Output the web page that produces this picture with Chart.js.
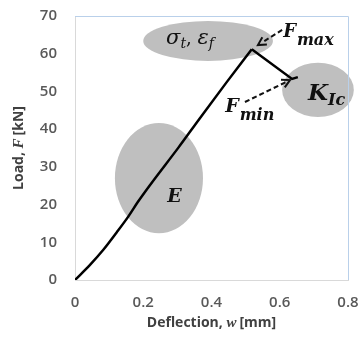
<!DOCTYPE html>
<html>
<head>
<meta charset="utf-8">
<script src="https://cdn.jsdelivr.net/npm/chart.js@4.4.1/dist/chart.umd.min.js"></script>
<style>
  html, body { margin: 0; padding: 0; background: #fff; }
  #wrap { width: 364px; height: 341px; }
</style>
</head>
<body>
<div id="wrap"><canvas id="loadChart" width="364" height="341"></canvas></div>
<script>
// load-deflection curve
var deflection = [0, 0.044, 0.083, 0.122, 0.156, 0.185, 0.22, 0.303, 0.366, 0.444, 0.518, 0.636, 0.653];
var load       = [0, 4.0,   8.0,   12.6,  16.8,  20.8,  25.2, 35.1,  42.9,  52.4,  61.2,  53.3,  53.8];

var xTicks = [0, 0.2, 0.4, 0.6, 0.8];
var yTicks = [0, 10, 20, 30, 40, 50, 60, 70];

// shaded regions (data units): centre x, centre y, half width, half height
var regionNames = ['strength', 'toughness', 'modulus'];
var regionCx = [0.390, 0.712, 0.246];
var regionCy = [63.4, 50.4, 27.0];
var regionRx = [0.190, 0.105, 0.129];
var regionRy = [5.3, 7.2, 14.6];

// dashed arrows (data units)
var arrowFrom = [[0.607, 66.3], [0.498, 47.2]];
var arrowTo   = [[0.536, 62.3], [0.630, 53.0]];

var serif = '"DejaVu Serif", serif';

function px(chart, x, y) {
  return [chart.scales.x.getPixelForValue(x), chart.scales.y.getPixelForValue(y)];
}

// draw text pieces one after another, each with its own font and baseline shift
function richText(ctx, x, y, parts) {
  var cx = x;
  ctx.textAlign = 'left';
  ctx.textBaseline = 'alphabetic';
  parts.forEach(function(p) {
    ctx.font = p.font;
    ctx.fillText(p.t, cx, y + (p.dy || 0));
    cx += ctx.measureText(p.t).width + (p.gap || 0);
  });
}

function textWidth(ctx, parts) {
  var w = 0;
  parts.forEach(function(q) { ctx.font = q.font; w += ctx.measureText(q.t).width + (q.gap || 0); });
  return w;
}

var decor = {
  id: 'decor',
  beforeDatasetsDraw: function(chart) {
    var ctx = chart.ctx;
    ctx.save();
    ctx.fillStyle = '#bfbfbf';
    for (var i = 0; i < regionNames.length; i++) {
      var c = px(chart, regionCx[i], regionCy[i]);
      var e = px(chart, regionCx[i] + regionRx[i], regionCy[i] + regionRy[i]);
      ctx.beginPath();
      ctx.ellipse(c[0], c[1], Math.abs(e[0] - c[0]), Math.abs(e[1] - c[1]), 0, 0, Math.PI * 2);
      ctx.fill();
    }
    ctx.restore();
  },
  afterDraw: function(chart) {
    var ctx = chart.ctx, a = chart.chartArea;
    ctx.save();
    // plot frame top/right
    ctx.strokeStyle = '#b9d0ea';
    ctx.lineWidth = 1;
    ctx.beginPath();
    ctx.moveTo(a.left, a.top + 0.5);
    ctx.lineTo(a.right + 0.5, a.top + 0.5);
    ctx.lineTo(a.right + 0.5, a.bottom);
    ctx.stroke();

    // dashed arrows
    ctx.strokeStyle = '#111';
    ctx.fillStyle = '#111';
    ctx.lineWidth = 2;
    for (var i = 0; i < arrowFrom.length; i++) {
      var f = px(chart, arrowFrom[i][0], arrowFrom[i][1]);
      var t = px(chart, arrowTo[i][0], arrowTo[i][1]);
      var ang = Math.atan2(t[1] - f[1], t[0] - f[0]);
      ctx.setLineDash([5, 3]);
      ctx.beginPath();
      ctx.moveTo(f[0], f[1]);
      ctx.lineTo(t[0] - 5 * Math.cos(ang), t[1] - 5 * Math.sin(ang));
      ctx.stroke();
      ctx.setLineDash([]);
      ctx.beginPath();
      ctx.moveTo(t[0] - 9 * Math.cos(ang - 0.5), t[1] - 9 * Math.sin(ang - 0.5));
      ctx.lineTo(t[0], t[1]);
      ctx.lineTo(t[0] - 9 * Math.cos(ang + 0.5), t[1] - 9 * Math.sin(ang + 0.5));
      ctx.stroke();
    }

    // labels
    ctx.fillStyle = '#111';
    var p;
    p = px(chart, 0.267, 62.6);
    richText(ctx, p[0], p[1], [
      {t: 'σ', font: 'italic 21px ' + serif},
      {t: 't', font: 'italic 14px ' + serif, dy: 4},
      {t: ', ', font: '18px ' + serif},
      {t: 'ε', font: 'italic 21px ' + serif},
      {t: 'f', font: 'italic 14px ' + serif, dy: 4}
    ]);
    p = px(chart, 0.610, 64.4);
    richText(ctx, p[0], p[1], [
      {t: 'F', font: 'bold italic 18px ' + serif, gap: 1},
      {t: 'max', font: 'bold italic 16px ' + serif, dy: 8}
    ]);
    p = px(chart, 0.440, 44.5);
    richText(ctx, p[0], p[1], [
      {t: 'F', font: 'bold italic 19px ' + serif, gap: 1},
      {t: 'min', font: 'bold italic 16px ' + serif, dy: 8}
    ]);
    p = px(chart, 0.683, 47.7);
    richText(ctx, p[0], p[1], [
      {t: 'K', font: 'bold italic 23px ' + serif, gap: 0},
      {t: 'Ic', font: 'bold italic 16px ' + serif, dy: 5}
    ]);
    p = px(chart, 0.270, 20.7);
    richText(ctx, p[0], p[1], [
      {t: 'E', font: 'bold italic 19px ' + serif}
    ]);

    // axis titles with italic symbols
    ctx.fillStyle = '#404040';
    var sans = '"Open Sans", sans-serif';
    var xt = [
      {t: 'Deflection, ', font: 'bold 14px ' + sans},
      {t: 'w', font: 'bold italic 15px "Liberation Serif", serif', gap: 3},
      {t: '[mm]', font: 'bold 14px ' + sans}
    ];
    richText(ctx, (a.left + a.right) / 2 - textWidth(ctx, xt) / 2, 327, xt);

    var yt = [
      {t: 'Load, ', font: 'bold 14px ' + sans},
      {t: 'F', font: 'bold italic 15px "Liberation Serif", serif', gap: 3},
      {t: '[kN]', font: 'bold 14px ' + sans}
    ];
    var yw = textWidth(ctx, yt);
    ctx.translate(23, (a.top + a.bottom) / 2);
    ctx.rotate(-Math.PI / 2);
    richText(ctx, -yw / 2, 0, yt);
    ctx.restore();
  }
};

var points = deflection.map(function(d, i) { return {x: d, y: load[i]}; });
var peak = load.indexOf(Math.max.apply(null, load));

new Chart(document.getElementById('loadChart').getContext('2d'), {
  type: 'line',
  data: {
    datasets: [{
      // loading branch, smooth
      data: points.slice(0, peak + 1),
      borderColor: '#000',
      borderWidth: 2.5,
      pointRadius: 0,
      cubicInterpolationMode: 'monotone',
      fill: false
    }, {
      // drop after the peak
      data: points.slice(peak),
      borderColor: '#000',
      borderWidth: 2.5,
      pointRadius: 0,
      tension: 0,
      fill: false
    }]
  },
  options: {
    responsive: false,
    animation: false,
    layout: { padding: { top: 16, right: 16, left: 0, bottom: 0 } },
    plugins: { legend: { display: false }, tooltip: { enabled: false } },
    scales: {
      x: {
        type: 'linear',
        min: 0, max: 0.8,
        afterBuildTicks: function(s) { s.ticks = xTicks.map(function(v) { return {value: v}; }); },
        afterFit: function(s) { s.height = 61; s.paddingLeft = 0; s.paddingRight = 0; },
        grid: { display: false, drawTicks: false },
        border: { display: true, color: '#d9d9d9', width: 1 },
        ticks: {
          padding: 14,
          color: '#595959',
          font: { family: 'Open Sans', size: 15, weight: '600' },
          callback: function(v) { return String(v); }
        }
      },
      y: {
        min: 0, max: 70,
        afterBuildTicks: function(s) { s.ticks = yTicks.map(function(v) { return {value: v}; }); },
        afterFit: function(s) { s.width = 75; s.paddingTop = 0; s.paddingBottom = 0; },
        grid: { display: false, drawTicks: false },
        border: { display: true, color: '#d9d9d9', width: 1 },
        ticks: {
          padding: 18,
          color: '#595959',
          font: { family: 'Open Sans', size: 15, weight: '600' }
        }
      }
    }
  },
  plugins: [decor]
});
</script>
</body>
</html>
